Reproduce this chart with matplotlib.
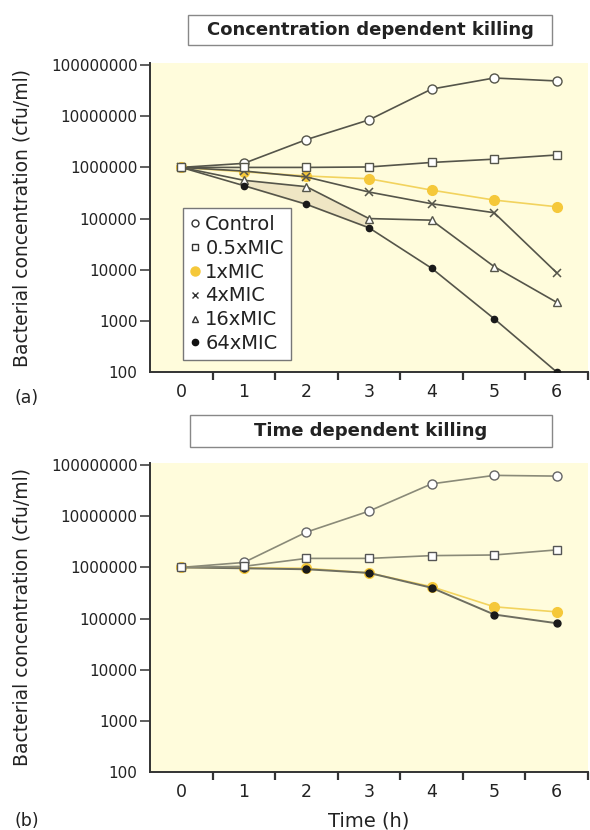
import matplotlib
matplotlib.use("Agg")
import matplotlib.pyplot as plt
from matplotlib.lines import Line2D
from matplotlib.patches import Rectangle

plt.rcParams["font.family"] = ["DejaVu Sans"]

# ---- data ----
hours = [0, 1, 2, 3, 4, 5, 6]
series_names = ["Control", "0.5xMIC", "1xMIC", "4xMIC", "16xMIC", "64xMIC"]

# (a) concentration dependent killing
conc_control = [1.0e6, 1.2e6, 3.5e6, 8.5e6, 3.4e7, 5.6e7, 4.9e7]
conc_half = [1.0e6, 1.0e6, 1.0e6, 1.02e6, 1.25e6, 1.45e6, 1.75e6]
conc_1x = [1.0e6, 8.2e5, 6.8e5, 6.0e5, 3.6e5, 2.3e5, 1.7e5]
conc_4x = [1.0e6, 8.5e5, 6.5e5, 3.3e5, 1.95e5, 1.3e5, 8.7e3]
conc_16x = [1.0e6, 5.6e5, 4.2e5, 1.0e5, 9.3e4, 1.15e4, 2.3e3]
conc_64x = [1.0e6, 4.4e5, 1.9e5, 6.6e4, 1.07e4, 1.1e3, 1.0e2]

# (b) time dependent killing
time_control = [1.0e6, 1.25e6, 4.9e6, 1.26e7, 4.3e7, 6.3e7, 6.1e7]
time_half = [1.0e6, 1.05e6, 1.5e6, 1.5e6, 1.7e6, 1.75e6, 2.2e6]
time_1x = [1.0e6, 9.8e5, 9.6e5, 7.8e5, 4.2e5, 1.7e5, 1.35e5]
time_64x = [1.0e6, 9.6e5, 9.2e5, 7.8e5, 4.0e5, 1.2e5, 8.1e4]

ytick_vals = [1e2, 1e3, 1e4, 1e5, 1e6, 1e7, 1e8]

BG = "#fffcdc"
DARK = "#55554a"
LIGHT = "#8a8a78"
YEL = "#f5c83a"
YEL_LINE = "#f2d35e"
TXT = "#222222"

W, H = 590, 830
fig = plt.figure(figsize=(W / 100, H / 100), dpi=100)


def px_axes(left, top, right, bottom):
    return fig.add_axes([left / W, 1 - bottom / H, (right - left) / W, (bottom - top) / H])


def style_axes(ax):
    ax.set_facecolor(BG)
    ax.set_yscale("log")
    ax.set_ylim(100, 1.1e8)
    ax.set_xlim(-0.5, 6.5)
    ax.spines[["top", "right"]].set_visible(False)
    for s in ("left", "bottom"):
        ax.spines[s].set_color("#333333")
        ax.spines[s].set_linewidth(1.4)
    ax.set_yticks(ytick_vals)
    ax.set_yticklabels([f"{int(v)}" for v in ytick_vals], fontsize=11, color=TXT)
    ax.yaxis.set_minor_locator(matplotlib.ticker.NullLocator())
    ax.tick_params(axis="y", length=7, width=1.1, color="#333", pad=2)
    ax.yaxis.get_major_ticks()[0].tick1line.set_visible(False)
    ax.set_xticks(hours)
    ax.set_xticklabels([str(h) for h in hours], fontsize=12.5, color=TXT)
    ax.set_xticks([h + 0.5 for h in hours], minor=True)
    ax.tick_params(axis="x", which="major", length=0, pad=8)
    ax.tick_params(axis="x", which="minor", length=6, width=1.6, color="#333")
    ax.set_ylabel("Bacterial concentration (cfu/ml)", fontsize=13.5, color=TXT)
    ax.yaxis.set_label_coords(-118 / 438, 0.5)


def panel_title(text, left, top, right, bottom):
    fig.patches.append(Rectangle((left / W, 1 - bottom / H), (right - left) / W, (bottom - top) / H,
                                 transform=fig.transFigure, facecolor="white",
                                 edgecolor="#888888", linewidth=1.0))
    fig.text((left + right) / 2 / W, 1 - (top + bottom) / 2 / H, text, ha="center", va="center",
             fontsize=13, fontweight="bold", color=TXT)


# ---- (a) ----
ax1 = px_axes(150, 63, 588, 372)
style_axes(ax1)
ax1.fill_between(hours[1:4], conc_16x[1:4], conc_64x[1:4], color="#efe6c4", zorder=1)
ax1.plot(hours, conc_control, color=DARK, lw=1.2, marker="o", ms=6.5, mfc="white", mec=DARK, zorder=3)
ax1.plot(hours, conc_1x, color=YEL_LINE, lw=1.2, marker="o", ms=7, mfc=YEL, mec=YEL, zorder=3)
ax1.plot(hours, conc_4x, color=DARK, lw=1.2, marker="x", ms=5.5, mew=1.1, mec=DARK, zorder=4)
ax1.plot(hours, conc_16x, color=DARK, lw=1.2, marker="^", ms=5.5, mfc="white", mec=DARK, zorder=3)
ax1.plot(hours, conc_64x, color=DARK, lw=1.2, marker="o", ms=4.5, mfc="#1a1a1a", mec="#1a1a1a", zorder=3)
ax1.plot(hours, conc_half, color=DARK, lw=1.2, marker="s", ms=6, mfc="white", mec=DARK, zorder=5)

handles = [
    Line2D([], [], ls="none", marker="o", ms=5, mfc="white", mec="#333"),
    Line2D([], [], ls="none", marker="s", ms=5, mfc="white", mec="#333"),
    Line2D([], [], ls="none", marker="o", ms=6.5, mfc=YEL, mec=YEL),
    Line2D([], [], ls="none", marker="x", ms=4.5, mec="#333"),
    Line2D([], [], ls="none", marker="^", ms=5, mfc="white", mec="#333"),
    Line2D([], [], ls="none", marker="o", ms=4.5, mfc="#111", mec="#111"),
]
leg = ax1.legend(handles, series_names, loc="lower left", bbox_to_anchor=(33 / 438, 12 / 309),
                 fontsize=14, frameon=True, fancybox=False, edgecolor="#777", facecolor="white",
                 framealpha=1, handlelength=0.5, handletextpad=0.3, labelspacing=0.25,
                 borderpad=0.35, borderaxespad=0)
leg.get_frame().set_linewidth(1.0)
for t in leg.get_texts():
    t.set_color(TXT)

panel_title("Concentration dependent killing", 188, 15, 552, 45)
fig.text(15 / W, 1 - 398 / H, "(a)", fontsize=12.5, va="center", color=TXT)

# ---- (b) ----
ax2 = px_axes(150, 463, 588, 772)
style_axes(ax2)
ax2.plot(hours, time_control, color=LIGHT, lw=1.2, marker="o", ms=6.5, mfc="white", mec="#666", zorder=3)
ax2.plot(hours, time_1x, color=YEL_LINE, lw=1.2, marker="o", ms=7, mfc=YEL, mec=YEL, zorder=3)
ax2.plot(hours, time_64x, color="#6e6e60", lw=1.4, marker="o", ms=5, mfc="#1a1a1a", mec="#1a1a1a", zorder=4)
ax2.plot(hours, time_half, color=LIGHT, lw=1.2, marker="s", ms=6, mfc="white", mec="#555", zorder=5)
ax2.set_xlabel("Time (h)", fontsize=14, color=TXT, va="center")
ax2.xaxis.set_label_coords(0.5, -49 / 309)

panel_title("Time dependent killing", 190, 415, 552, 447)
fig.text(15 / W, 1 - 821 / H, "(b)", fontsize=12.5, va="center", color=TXT)

fig.savefig("out.png", dpi=100)
